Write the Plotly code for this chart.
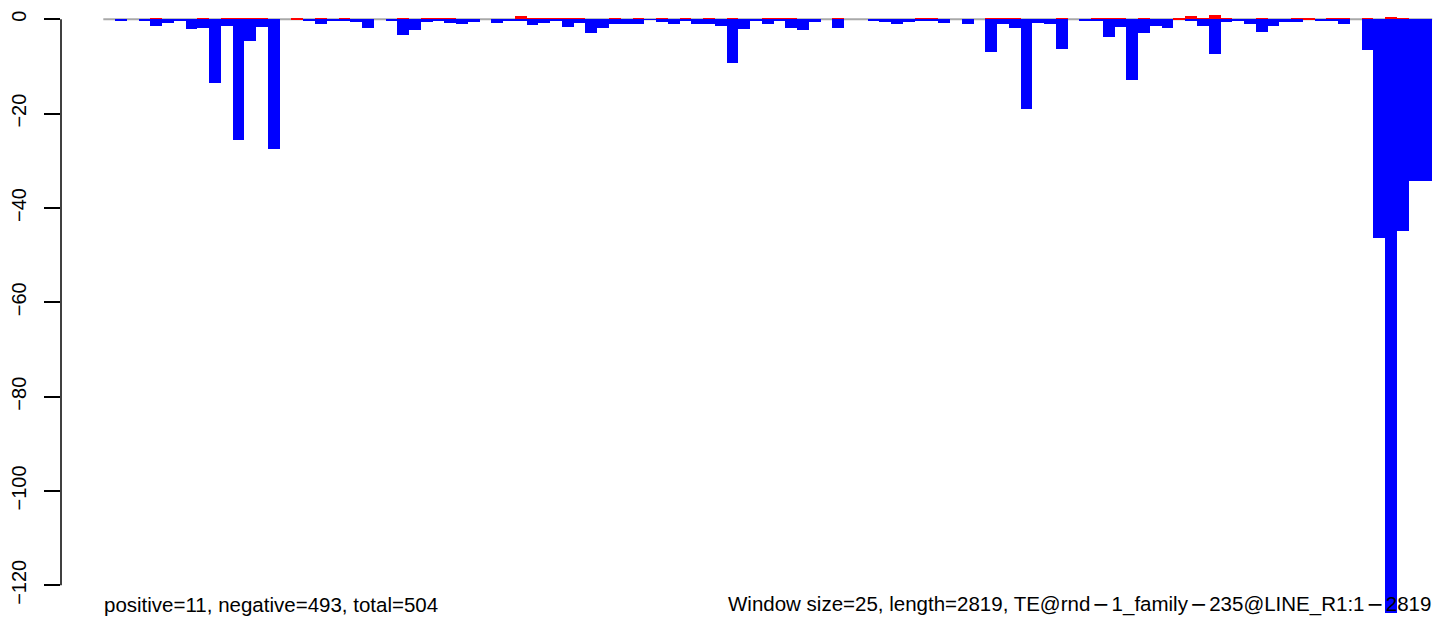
import plotly.graph_objects as go

# ---- data -------------------------------------------------------------
window_size = 25
n_windows = 113
window_start = [i * window_size for i in range(n_windows)]  # window categories (bp)

neg_values = [
    0, -0.15, 0, -0.3, -1.35, -0.8, -0.35, -2.0, -1.8, -13.4,
    -1.35, -25.6, -4.5, -1.55, -27.4, 0, 0, -0.2, -0.9, -0.25,
    -0.2, -0.55, -1.75, 0, -0.2, -3.25, -2.2, -0.5, -0.2, -0.7,
    -0.95, -0.5, 0, -0.7, -0.4, -0.4, -1.15, -0.85, -0.2, -1.6,
    -0.85, -2.85, -1.85, -0.9, -0.9, -0.9, -0.1, -0.5, -0.9, -0.25,
    -1.1, -0.9, -1.35, -9.2, -2.0, -0.25, -1.1, -0.2, -1.85, -2.2,
    -0.5, 0, -1.85, 0, 0, -0.15, -0.5, -0.9, -0.5, -0.2,
    -0.2, -0.7, 0, -0.9, 0, -6.9, -0.9, -1.85, -18.95, -0.8,
    -1.1, -6.2, 0, -0.25, -0.2, -3.75, -1.55, -12.87, -2.8, -1.35,
    -1.85, 0, -0.25, -1.35, -7.3, -0.55, -0.2, -1.1, -2.7, -1.35,
    -0.5, -0.5, 0, -0.15, -0.2, -1.1, 0, -6.5, -46.3, -125.8,
    -44.8, -34.2, -34.2,
]

pos_values = [
    0, 0, 0, 0, 0.15, 0, 0, 0, 0.15, 0,
    0.15, 0.3, 0.15, 0.15, 0, 0, 0.15, 0, 0.15, 0,
    0.15, 0, 0, 0, 0, 0.15, 0, 0.3, 0.15, 0.15,
    0, 0, 0, 0, 0, 0.7, 0.3, 0.15, 0.3, 0.15,
    0.15, 0, 0, 0.15, 0, 0.15, 0, 0.15, 0, 0.15,
    0, 0.3, 0, 0.3, 0, 0, 0.15, 0.15, 0.15, 0,
    0, 0, 0.15, 0, 0, 0, 0, 0, 0, 0.15,
    0.15, 0, 0, 0, 0, 0.15, 0.15, 0.3, 0, 0,
    0, 0.15, 0, 0, 0.3, 0.15, 0.3, 0, 0.15, 0,
    0, 0.15, 0.7, 0.15, 0.9, 0.15, 0, 0, 0.15, 0,
    0, 0.15, 0.15, 0, 0.15, 0.15, 0, 0.3, 0, 0.5,
    0.3, 0, 0,
]

y_tick_values = [0, -20, -40, -60, -80, -100, -120]
y_tick_labels = ["0", "\u221220", "\u221240", "\u221260", "\u221280", "\u2212100", "\u2212120"]

left_text = "positive=11, negative=493, total=504"
right_text = "Window size=25, length=2819, TE@rnd\u22121_family\u2212235@LINE_R1:1\u22122819"

# ---- figure -----------------------------------------------------------
FONT = "Liberation Sans, Arial, Helvetica, sans-serif"
# R's device draws a wider minus sign; use DejaVu Sans' minus glyph
WIDE_MINUS = '<span style="font-family:DejaVu Sans">\u200a\u2212\u200a</span>'


def wide_minus(s):
    return s.replace("\u2212", WIDE_MINUS)


# the html page's body has an 8px margin, so the figure is laid out
# 8px smaller and all pixel anchors are shifted by -8
OFF = 8
W, H = 1441 - OFF, 617 - OFF
ML = 61 - OFF
x0_px = 103.3 - OFF      # left edge of first window
y0_px = 19.3 - OFF       # value 0
px_per_bp = 0.4704
px_per_unit = 4.717
text_y_px = 604 - OFF

fig = go.Figure()
fig.add_trace(go.Bar(
    x=window_start, y=pos_values, width=window_size, offset=0,
    marker=dict(color="#FF0000", line=dict(width=0)), showlegend=False,
))
fig.add_trace(go.Bar(
    x=window_start, y=neg_values, width=window_size, offset=0,
    marker=dict(color="#0000FF", line=dict(width=0)), showlegend=False,
))

x_end = window_start[-1] + window_size

# zero line (drawn below the bars)
fig.add_shape(type="line", xref="x", yref="y", x0=0, x1=x_end, y0=0, y1=0,
              line=dict(color="#A9A9A9", width=2), layer="below")
# y-axis line spanning first to last tick (R style)
fig.add_shape(type="line", xref="paper", yref="y", x0=0, x1=0,
              y0=y_tick_values[0], y1=y_tick_values[-1],
              line=dict(color="black", width=1.5))

fig.add_annotation(x=0, xref="x", y=1 - text_y_px / H, yref="paper", text=left_text,
                   showarrow=False, xanchor="left", yanchor="middle",
                   font=dict(family=FONT, size=20.5, color="black"), borderpad=0)
fig.add_annotation(x=x_end, xref="x", y=1 - text_y_px / H, yref="paper",
                   text=wide_minus(right_text),
                   showarrow=False, xanchor="right", yanchor="middle",
                   font=dict(family=FONT, size=20.5, color="black"), borderpad=0)

x_lo = (ML - x0_px) / px_per_bp
x_hi = (W - x0_px) / px_per_bp
y_hi = y0_px / px_per_unit
y_lo = -(H - y0_px) / px_per_unit

fig.update_layout(
    width=W, height=H,
    margin=dict(l=ML, r=0, t=0, b=0, pad=0, autoexpand=False),
    paper_bgcolor="white", plot_bgcolor="white",
    barmode="overlay", bargap=0,
    font=dict(family=FONT, size=20, color="black"),
    xaxis=dict(visible=False, range=[x_lo, x_hi], showgrid=False, zeroline=False,
               automargin=False),
    yaxis=dict(range=[y_lo, y_hi], showgrid=False, zeroline=False, showline=False,
               automargin=False,
               tickmode="array", tickvals=y_tick_values, ticktext=y_tick_labels,
               ticks="outside", ticklen=16, tickwidth=1.5, tickcolor="black",
               tickangle=-90, ticklabelstandoff=10,
               tickfont=dict(family=FONT, size=20, color="black")),
)

fig.write_html("out.html")
